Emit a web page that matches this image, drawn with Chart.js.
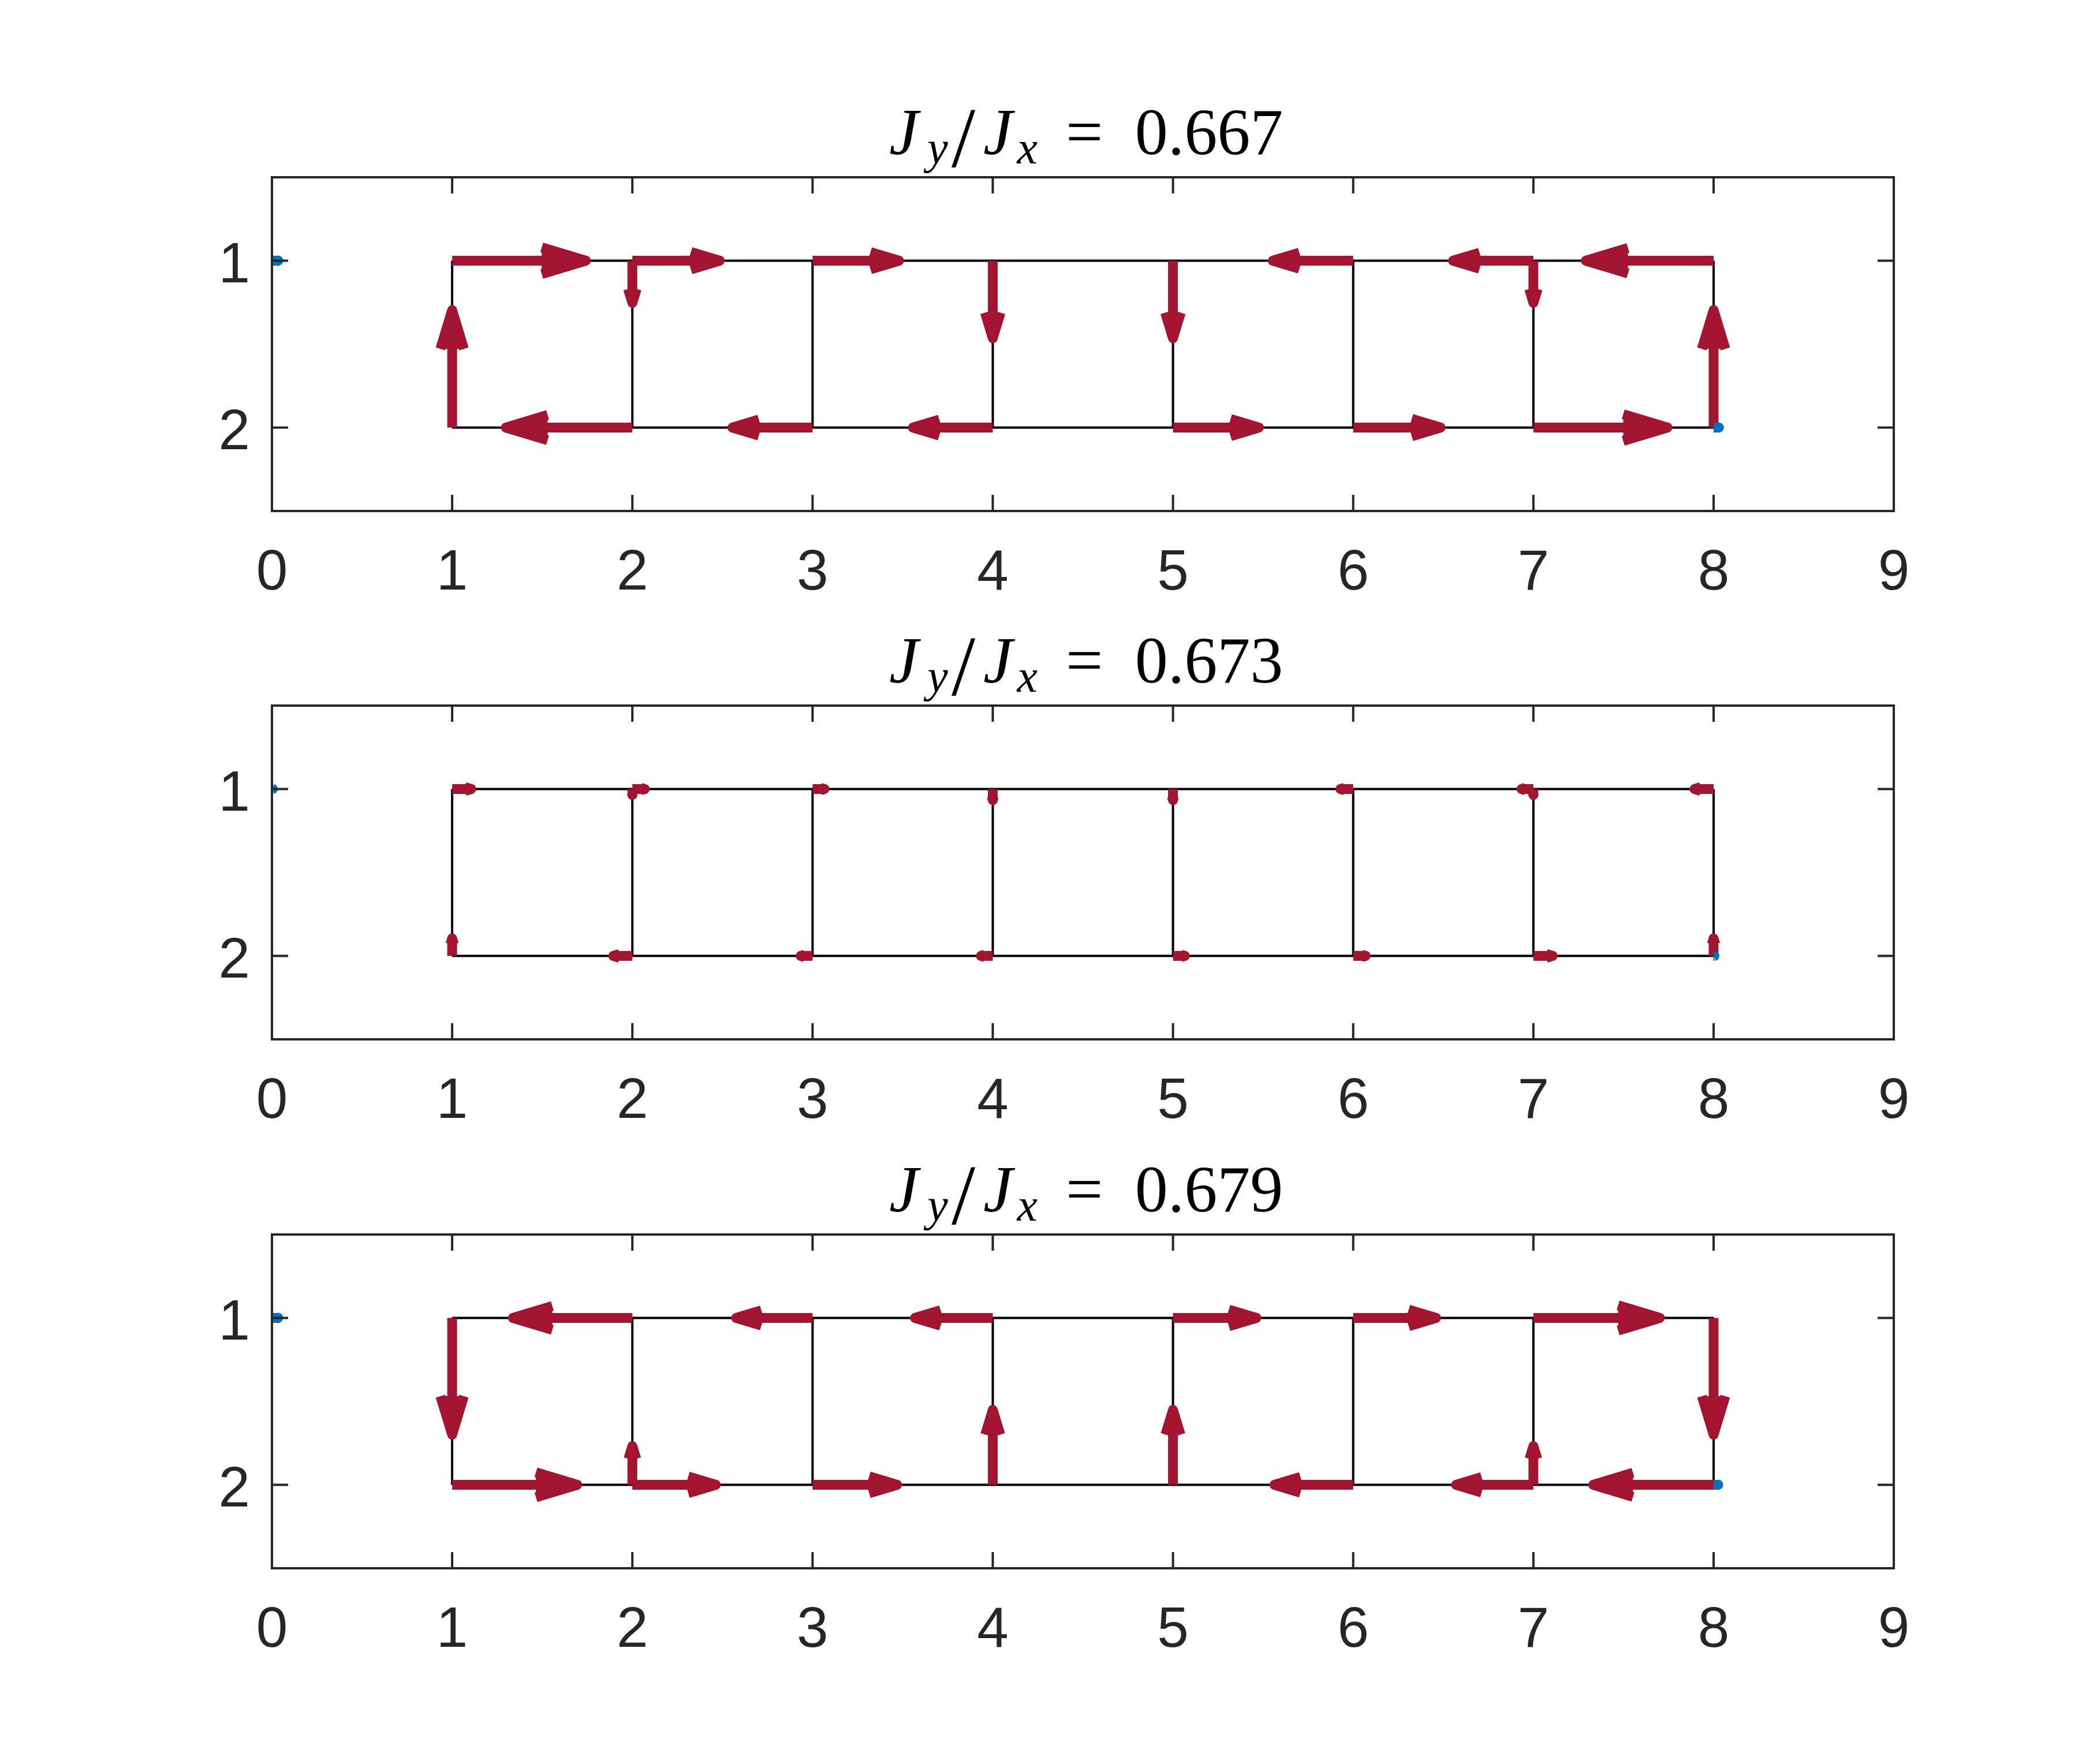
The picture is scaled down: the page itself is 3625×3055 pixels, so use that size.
<!DOCTYPE html>
<html>
<head>
<meta charset="utf-8">
<script src="https://cdn.jsdelivr.net/npm/chart.js@4.4.0/dist/chart.umd.min.js"></script>
<style>
  html, body { margin: 0; padding: 0; background: #fff; }
  #wrap { position: relative; width: 3625px; height: 3055px; background: #fff; }
  #wrap canvas { position: absolute; left: 0; }
</style>
</head>
<body>
<div id="wrap">
  <canvas id="p1" width="3625" height="916" style="top:137px"></canvas>
  <canvas id="p2" width="3625" height="916" style="top:1052px"></canvas>
  <canvas id="p3" width="3625" height="916" style="top:1968px"></canvas>
</div>
<script>
// ladder sites
var siteX = [1, 2, 3, 4, 5, 6, 7, 8];
var rowY = [1, 2];
var xTicks = [0, 1, 2, 3, 4, 5, 6, 7, 8, 9];
var yTicks = [1, 2];
var ratios = ['0.667', '0.673', '0.679'];

// arrow components at each site: U = along the leg, V = along the rung
// top = row 1, bot = row 2 (y axis is reversed, +V points down)
var topU1 = [0.742, 0.485, 0.48, 0, 0, -0.446, -0.446, -0.709];
var botU1 = [0, -0.702, -0.445, -0.443, 0.477, 0.485, 0.744, 0];
var topV1 = [0, 0.253, 0, 0.465, 0.465, 0, 0.253, 0];
var botV1 = [-0.704, 0, 0, 0, 0, 0, 0, -0.704];

var topU2 = [0.106, 0.069, 0.066, 0, 0, -0.071, -0.066, -0.106];
var botU2 = [0, -0.106, -0.066, -0.066, 0.066, 0.069, 0.107, 0];
var topV2 = [0, 0.036, 0, 0.067, 0.067, 0, 0.036, 0];
var botV2 = [-0.105, 0, 0, 0, 0, 0, 0, -0.105];

var topU3 = [0, -0.663, -0.424, -0.432, 0.463, 0.46, 0.702, 0];
var botU3 = [0.694, 0.463, 0.469, 0, 0, -0.437, -0.429, -0.668];
var topV3 = [0.70, 0, 0, 0, 0, 0, 0, 0.70];
var botV3 = [0, -0.232, 0, -0.449, -0.449, 0, -0.232, 0];

// small blue arrows
var blueX = [0, 8];
var blueY = [1, 2];
var blueU1 = [0.035, 0.03];
var blueU2 = [0.005, 0.005];
var blueU3 = [0.035, 0.026];

var red = '#A2142F';
var blue = '#0072BD';
var axisColor = '#262626';

function buildArrows(topU, botU, topV, botV) {
    var list = [];
    siteX.forEach(function (x, i) {
        list.push({x: x, y: rowY[0], u: topU[i], v: 0});
        list.push({x: x, y: rowY[1], u: botU[i], v: 0});
        list.push({x: x, y: rowY[0], u: 0, v: topV[i]});
        list.push({x: x, y: rowY[1], u: 0, v: botV[i]});
    });
    return list;
}

function drawArrow(ctx, xs, ys, a, color, lw) {
    if (a.u === 0 && a.v === 0) return;
    var x0 = xs.getPixelForValue(a.x), y0 = ys.getPixelForValue(a.y);
    var x1 = xs.getPixelForValue(a.x + a.u), y1 = ys.getPixelForValue(a.y + a.v);
    var dx = x1 - x0, dy = y1 - y0;
    var len = Math.hypot(dx, dy);
    var ux = dx / len, uy = dy / len;
    var hl = 0.33 * len, hw = 0.1 * len;
    var bx = x1 - ux * hl, by = y1 - uy * hl;
    var ax = bx - uy * hw, ay = by + ux * hw;
    var cx = bx + uy * hw, cy = by - ux * hw;
    ctx.strokeStyle = color;
    ctx.fillStyle = color;
    ctx.lineWidth = lw;
    ctx.lineJoin = 'round';
    ctx.lineCap = 'butt';
    ctx.beginPath();
    ctx.moveTo(x0, y0);
    ctx.lineTo(x1, y1);
    ctx.stroke();
    ctx.beginPath();
    ctx.moveTo(ax, ay);
    ctx.lineTo(x1, y1);
    ctx.lineTo(cx, cy);
    ctx.closePath();
    ctx.fill();
    ctx.beginPath();
    ctx.moveTo(ax, ay);
    ctx.lineTo(x1, y1);
    ctx.lineTo(cx, cy);
    ctx.stroke();
}

function drawTitle(ctx, area, value) {
    var S = 114;
    var sub = 0.7 * S;
    var parts = [
        {t: 'J', font: 'italic ' + S + 'px "Liberation Serif"', at: 0, dy: 0},
        {t: 'y', font: 'italic ' + sub + 'px "Liberation Serif"', at: 0.52, dy: 16},
        {t: '/', font: Math.round(1.3 * S) + 'px "Liberation Serif"', at: 0.955, dy: 22},
        {t: 'J', font: 'italic ' + S + 'px "Liberation Serif"', at: 1.455, dy: 0},
        {t: 'x', font: 'italic ' + sub + 'px "Liberation Serif"', at: 1.96, dy: 16},
        {t: '=', font: S + 'px "Liberation Serif"', at: 2.77, dy: 0},
        {t: value, font: S + 'px "Liberation Serif"', at: 3.83, dy: 0}
    ];
    var span = 673;
    var left = (area.left + area.right) / 2 - span / 2 + 2;
    var base = area.top - 40;
    ctx.save();
    ctx.fillStyle = '#000';
    ctx.textAlign = 'left';
    ctx.textBaseline = 'alphabetic';
    parts.forEach(function (p) {
        ctx.font = p.font;
        var m = ctx.measureText(p.t);
        ctx.fillText(p.t, left + p.at * S * 0.982 + m.actualBoundingBoxLeft, base + p.dy);
    });
    ctx.restore();
}

var quiverPlugin = {
    id: 'quiver',
    afterDatasetsDraw: function (chart, args, opts) {
        var ctx = chart.ctx, xs = chart.scales.x, ys = chart.scales.y, area = chart.chartArea;
        ctx.save();
        ctx.beginPath();
        ctx.rect(area.left, area.top, area.right - area.left, area.bottom - area.top);
        ctx.clip();
        opts.arrows.forEach(function (a) { drawArrow(ctx, xs, ys, a, red, 17); });
        opts.blue.forEach(function (a) { drawArrow(ctx, xs, ys, a, blue, 17); });
        ctx.restore();

        // axes box with inward ticks
        ctx.save();
        ctx.strokeStyle = axisColor;
        ctx.lineWidth = 4;
        ctx.lineCap = 'butt';
        ctx.strokeRect(area.left, area.top, area.right - area.left, area.bottom - area.top);
        var tl = 28;
        ctx.beginPath();
        xs.ticks.forEach(function (t) {
            var px = xs.getPixelForValue(t.value);
            ctx.moveTo(px, area.bottom); ctx.lineTo(px, area.bottom - tl);
            ctx.moveTo(px, area.top); ctx.lineTo(px, area.top + tl);
        });
        ys.ticks.forEach(function (t) {
            var py = ys.getPixelForValue(t.value);
            ctx.moveTo(area.left, py); ctx.lineTo(area.left + tl, py);
            ctx.moveTo(area.right, py); ctx.lineTo(area.right - tl, py);
        });
        ctx.stroke();
        ctx.restore();

        drawTitle(ctx, area, opts.title);
    }
};

function makePanel(id, title, topU, botU, topV, botV, blueU) {
    var topRow = siteX.map(function (x) { return {x: x, y: rowY[0]}; });
    var botRow = siteX.map(function (x) { return {x: x, y: rowY[1]}; });
    var rungs = [];
    siteX.forEach(function (x) {
        rungs.push({x: x, y: rowY[0]}, {x: x, y: rowY[1]}, {x: x, y: null});
    });
    var blueArrows = blueX.map(function (x, i) { return {x: x, y: blueY[i], u: blueU[i], v: 0}; });
    var lineStyle = {showLine: true, borderColor: '#000', borderWidth: 4, pointRadius: 0, spanGaps: false};

    return new Chart(document.getElementById(id), {
        type: 'scatter',
        data: {
            datasets: [
                Object.assign({label: 'leg 1', data: topRow}, lineStyle),
                Object.assign({label: 'leg 2', data: botRow}, lineStyle),
                Object.assign({label: 'rungs', data: rungs}, lineStyle)
            ]
        },
        options: {
            responsive: false,
            animation: false,
            events: [],
            layout: {padding: {left: 271, right: 345, top: 170, bottom: 0}},
            plugins: {
                legend: {display: false},
                tooltip: {enabled: false},
                title: {display: false},
                quiver: {
                    title: title,
                    arrows: buildArrows(topU, botU, topV, botV),
                    blue: blueArrows
                }
            },
            scales: {
                x: {
                    type: 'linear', position: 'bottom', min: 0, max: 9,
                    afterBuildTicks: function (s) { s.ticks = xTicks.map(function (v) { return {value: v}; }); },
                    afterFit: function (s) { s.height = 168; },
                    grid: {display: false, drawTicks: false},
                    border: {display: false},
                    ticks: {
                        padding: 50, color: axisColor, autoSkip: false, maxRotation: 0,
                        font: {family: '"Liberation Sans", Arial, sans-serif', size: 98}
                    }
                },
                y: {
                    type: 'linear', position: 'left', min: 0.5, max: 2.5, reverse: true,
                    afterBuildTicks: function (s) { s.ticks = yTicks.map(function (v) { return {value: v}; }); },
                    afterFit: function (s) { s.width = 200; },
                    grid: {display: false, drawTicks: false},
                    border: {display: false},
                    ticks: {
                        padding: 38, color: axisColor, labelOffset: 10,
                        font: {family: '"Liberation Sans", Arial, sans-serif', size: 98}
                    }
                }
            }
        },
        plugins: [quiverPlugin]
    });
}

makePanel('p1', ratios[0], topU1, botU1, topV1, botV1, blueU1);
makePanel('p2', ratios[1], topU2, botU2, topV2, botV2, blueU2);
makePanel('p3', ratios[2], topU3, botU3, topV3, botV3, blueU3);
</script>
</body>
</html>
